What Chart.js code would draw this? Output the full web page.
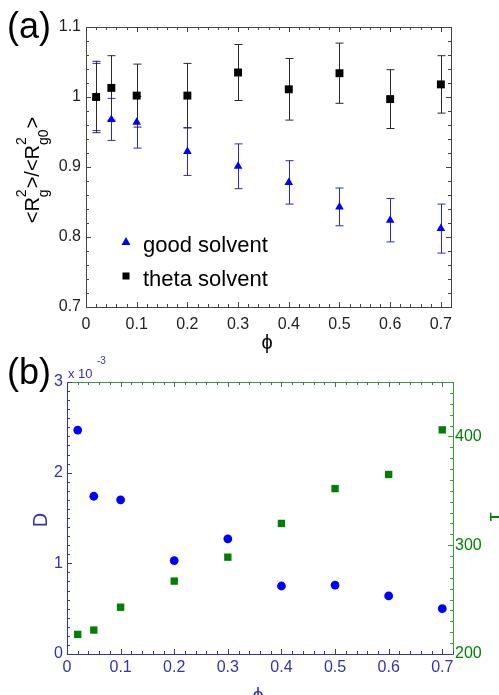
<!DOCTYPE html>
<html>
<head>
<meta charset="utf-8">
<script src="https://cdn.jsdelivr.net/npm/chart.js@4"></script>
<style>
  body { margin: 0; background: #fff; }
  #wrapA { position: absolute; left: 0; top: 0; }
  #wrapB { position: absolute; left: 0; top: 345px; }
</style>
</head>
<body>
<div id="wrapA"><canvas id="chartA" width="499" height="360"></canvas></div>
<div id="wrapB"><canvas id="chartB" width="499" height="350"></canvas></div>
<script>
// volume fractions (same for both panels)
var phi = [0.02, 0.05, 0.1, 0.2, 0.3, 0.4, 0.5, 0.6, 0.7];

// panel (a): <Rg^2>/<Rg0^2>
var goodRg    = [1.000, 0.968, 0.964, 0.922, 0.901, 0.878, 0.843, 0.824, 0.812];
var goodErr   = [0.048, 0.030, 0.037, 0.034, 0.032, 0.031, 0.027, 0.031, 0.035];
var thetaRg   = [1.000, 1.013, 1.002, 1.002, 1.035, 1.011, 1.034, 0.997, 1.018];
var thetaErr  = [0.051, 0.046, 0.045, 0.046, 0.040, 0.044, 0.043, 0.042, 0.041];

// panel (b): D and tau
var dValues   = [2.47e-3, 1.74e-3, 1.70e-3, 1.03e-3, 1.27e-3, 0.75e-3, 0.76e-3, 0.64e-3, 0.50e-3];
var tauValues = [218, 222, 243, 267, 289, 320, 352, 365, 406];

// tick labels
var xTicks    = [0, 0.1, 0.2, 0.3, 0.4, 0.5, 0.6, 0.7];
var rgTicks   = [0.7, 0.8, 0.9, 1, 1.1];
var dTicks    = [0, 1e-3, 2e-3, 3e-3];
var tauTicks  = [200, 300, 400];

var FONT = "'Liberation Sans', 'DejaVu Sans', sans-serif";
var BLUE = "#0000ff";
var AXBLUE = "#3232b4";
var GREEN = "#007f00";
var AXGREEN = "#3c9c3c";

function pts(ys) {
  return phi.map(function(x, i) { return {x: x, y: ys[i]}; });
}

function setTicks(vals) {
  return function(scale) { scale.ticks = vals.map(function(v) { return {value: v}; }); };
}

// inward tick marks, majors 5px, minors 3px
function inwardTicks(ctx, area, scale, majors, minorStep, sides, color) {
  var list = [];
  var n = Math.round((scale.max - scale.min) / minorStep);
  for (var i = 0; i <= n; i++) list.push({v: scale.min + i * minorStep, len: 3});
  majors.forEach(function(v) { list.push({v: v, len: 5}); });
  ctx.save();
  ctx.strokeStyle = color;
  ctx.lineWidth = 1;
  ctx.beginPath();
  list.forEach(function(t) {
    var p = Math.round(scale.getPixelForValue(t.v)) + 0.5;
    sides.forEach(function(s) {
      if (s === 'bottom') { ctx.moveTo(p, area.bottom); ctx.lineTo(p, area.bottom - t.len); }
      if (s === 'top')    { ctx.moveTo(p, area.top);    ctx.lineTo(p, area.top + t.len); }
      if (s === 'left')   { ctx.moveTo(area.left, p);   ctx.lineTo(area.left + t.len, p); }
      if (s === 'right')  { ctx.moveTo(area.right, p);  ctx.lineTo(area.right - t.len, p); }
    });
  });
  ctx.stroke();
  ctx.restore();
}

function line(ctx, x1, y1, x2, y2, color) {
  ctx.strokeStyle = color;
  ctx.beginPath();
  ctx.moveTo(x1, y1);
  ctx.lineTo(x2, y2);
  ctx.stroke();
}

// draws runs of text along a baseline, stacked sup/sub pairs
function richText(ctx, runs, mainSize, subSize) {
  var total = 0;
  runs.forEach(function(r) {
    if (r.t) { ctx.font = mainSize + "px " + FONT; r.w = ctx.measureText(r.t).width; }
    else {
      ctx.font = subSize + "px " + FONT;
      r.w = Math.max(ctx.measureText(r.sup).width, ctx.measureText(r.sub).width) + 1;
    }
    total += r.w;
  });
  var x = -total / 2;
  runs.forEach(function(r) {
    if (r.t) {
      ctx.font = mainSize + "px " + FONT;
      ctx.fillText(r.t, x, 0);
    } else {
      ctx.font = subSize + "px " + FONT;
      ctx.fillText(r.sup, x, -13);
      ctx.fillText(r.sub, x, 9);
    }
    x += r.w;
  });
}

// ---------- panel (a) ----------
var panelA = {
  id: 'panelA',
  beforeDatasetsDraw: function(chart) {
    var ctx = chart.ctx, xs = chart.scales.x, ys = chart.scales.y;
    ctx.save();
    ctx.lineWidth = 1;
    [[goodRg, goodErr, "#2a2ac8"], [thetaRg, thetaErr, "#2a2a2a"]].forEach(function(s) {
      phi.forEach(function(p, i) {
        var px = Math.round(xs.getPixelForValue(p)) + 0.5;
        var top = ys.getPixelForValue(s[0][i] + s[1][i]);
        var bot = ys.getPixelForValue(s[0][i] - s[1][i]);
        line(ctx, px, top, px, bot, s[2]);
        line(ctx, px - 4, top, px + 4, top, s[2]);
        line(ctx, px - 4, bot, px + 4, bot, s[2]);
      });
    });
    ctx.restore();
  },
  afterDraw: function(chart) {
    var ctx = chart.ctx, a = chart.chartArea;
    ctx.save();
    ctx.strokeStyle = "#444";
    ctx.lineWidth = 1;
    ctx.strokeRect(Math.round(a.left) + 0.5, Math.round(a.top) + 0.5, Math.round(a.right - a.left), Math.round(a.bottom - a.top));
    inwardTicks(ctx, a, chart.scales.x, xTicks, 0.02, ['bottom', 'top'], "#444");
    inwardTicks(ctx, a, chart.scales.y, rgTicks, 0.02, ['left', 'right'], "#444");

    // legend
    ctx.fillStyle = BLUE;
    ctx.beginPath();
    ctx.moveTo(126, 237); ctx.lineTo(130.5, 245); ctx.lineTo(121.5, 245); ctx.closePath();
    ctx.fill();
    ctx.fillStyle = "#000";
    ctx.fillRect(122.5, 272.5, 7, 7);
    ctx.font = "22px " + FONT;
    ctx.textBaseline = "alphabetic";
    ctx.fillText("good solvent", 143, 252);
    ctx.fillText("theta solvent", 143, 286);

    // panel tag and x label
    ctx.font = "36px " + FONT;
    ctx.fillText("(a)", 7, 38);
    ctx.font = "20px " + FONT;
    ctx.textAlign = "center";
    ctx.fillText("\u03d5", 267, 349);

    // y label
    ctx.translate(39, 170);
    ctx.rotate(-Math.PI / 2);
    ctx.textAlign = "left";
    richText(ctx, [{t: "<R"}, {sup: "2", sub: "g"}, {t: ">/<R"}, {sup: "2", sub: "g0"}, {t: ">"}], 20, 14);
    ctx.restore();
  }
};

new Chart(document.getElementById("chartA"), {
  type: 'scatter',
  data: {
    datasets: [
      {label: 'theta solvent', data: pts(thetaRg), pointStyle: 'rect', pointRadius: 5.6,
       backgroundColor: "#000", borderColor: "#000", borderWidth: 0, order: 0},
      {label: 'good solvent', data: pts(goodRg), pointStyle: 'triangle', pointRadius: 5,
       backgroundColor: BLUE, borderColor: BLUE, borderWidth: 0, order: 1}
    ]
  },
  options: {
    responsive: false,
    animation: false,
    events: [],
    layout: {padding: {left: 0, top: 27, right: 48, bottom: 0}, autoPadding: false},
    plugins: {legend: {display: false}, tooltip: {enabled: false}},
    scales: {
      x: {
        type: 'linear', min: 0, max: 0.72,
        afterBuildTicks: setTicks(xTicks),
        afterFit: function(s) { s.height = 53; },
        grid: {display: false, drawTicks: false},
        border: {display: false},
        ticks: {padding: 8, maxRotation: 0, color: "#222", font: {family: FONT, size: 16},
                callback: function(v) { return String(v); }}
      },
      y: {
        type: 'linear', min: 0.7, max: 1.1,
        afterBuildTicks: setTicks(rgTicks),
        afterFit: function(s) { s.width = 86; },
        grid: {display: false, drawTicks: false},
        border: {display: false},
        ticks: {padding: 5, color: "#222", font: {family: FONT, size: 16},
                callback: function(v) { return String(v); }}
      }
    }
  },
  plugins: [panelA]
});

// ---------- panel (b) ----------
var panelB = {
  id: 'panelB',
  afterDraw: function(chart) {
    var ctx = chart.ctx, a = chart.chartArea;
    var L = Math.round(a.left) + 0.5, R = Math.round(a.right) + 0.5;
    var T = Math.round(a.top) + 0.5, B = Math.round(a.bottom) + 0.5;
    ctx.save();
    ctx.lineWidth = 1;
    line(ctx, L, T, R, T, AXGREEN);
    line(ctx, R, T, R, B, AXGREEN);
    inwardTicks(ctx, a, chart.scales.x, xTicks, 0.02, ['top'], "#55607a");
    inwardTicks(ctx, a, chart.scales.x, xTicks, 0.02, ['bottom'], AXBLUE);
    inwardTicks(ctx, a, chart.scales.yD, dTicks, 1e-4, ['left'], AXBLUE);
    inwardTicks(ctx, a, chart.scales.yTau, tauTicks, 10, ['right'], AXGREEN);
    line(ctx, L, T, L, B, AXBLUE);
    line(ctx, L, B, R, B, AXBLUE);

    ctx.fillStyle = "#000";
    ctx.font = "36px " + FONT;
    ctx.fillText("(b)", 7, 39);

    ctx.fillStyle = AXBLUE;
    ctx.font = "13px " + FONT;
    ctx.fillText("x 10", 68, 33);
    ctx.font = "10px " + FONT;
    ctx.fillText("-3", 97, 19);

    ctx.font = "20px " + FONT;
    ctx.textAlign = "center";
    ctx.fillText("\u03d5", 258, 357);

    ctx.save();
    ctx.translate(47, 175);
    ctx.rotate(-Math.PI / 2);
    ctx.fillText("D", 0, 0);
    ctx.restore();

    ctx.save();
    ctx.fillStyle = GREEN;
    ctx.font = "22px " + FONT;
    ctx.translate(502, 172);
    ctx.rotate(-Math.PI / 2);
    ctx.fillText("\u03c4", 0, 0);
    ctx.restore();
    ctx.restore();
  }
};

new Chart(document.getElementById("chartB"), {
  type: 'scatter',
  data: {
    datasets: [
      {label: 'D', data: pts(dValues), yAxisID: 'yD', pointStyle: 'circle', pointRadius: 4.4,
       backgroundColor: BLUE, borderColor: BLUE, borderWidth: 0, order: 0},
      {label: 'tau', data: pts(tauValues), yAxisID: 'yTau', pointStyle: 'rect', pointRadius: 5.2,
       backgroundColor: GREEN, borderColor: GREEN, borderWidth: 0, order: 1}
    ]
  },
  options: {
    responsive: false,
    animation: false,
    events: [],
    layout: {padding: {left: 0, top: 37, right: 0, bottom: 0}, autoPadding: false},
    plugins: {legend: {display: false}, tooltip: {enabled: false}},
    scales: {
      x: {
        type: 'linear', min: 0, max: 0.72,
        afterBuildTicks: setTicks(xTicks),
        afterFit: function(s) { s.height = 41; },
        grid: {display: false, drawTicks: false},
        border: {display: false},
        ticks: {padding: 4, maxRotation: 0, color: AXBLUE, font: {family: FONT, size: 16},
                callback: function(v) { return String(v); }}
      },
      yD: {
        type: 'linear', position: 'left', min: 0, max: 3e-3,
        afterBuildTicks: setTicks(dTicks),
        afterFit: function(s) { s.width = 67; },
        grid: {display: false, drawTicks: false},
        border: {display: false},
        ticks: {padding: 4, color: AXBLUE, font: {family: FONT, size: 16},
                callback: function(v) { return String(Math.round(v * 1000)); }}
      },
      yTau: {
        type: 'linear', position: 'right', min: 200, max: 450,
        afterBuildTicks: setTicks(tauTicks),
        afterFit: function(s) { s.width = 46; },
        grid: {display: false, drawTicks: false},
        border: {display: false},
        ticks: {padding: 2, color: GREEN, font: {family: FONT, size: 16},
                callback: function(v) { return String(v); }}
      }
    }
  },
  plugins: [panelB]
});
</script>
</body>
</html>
